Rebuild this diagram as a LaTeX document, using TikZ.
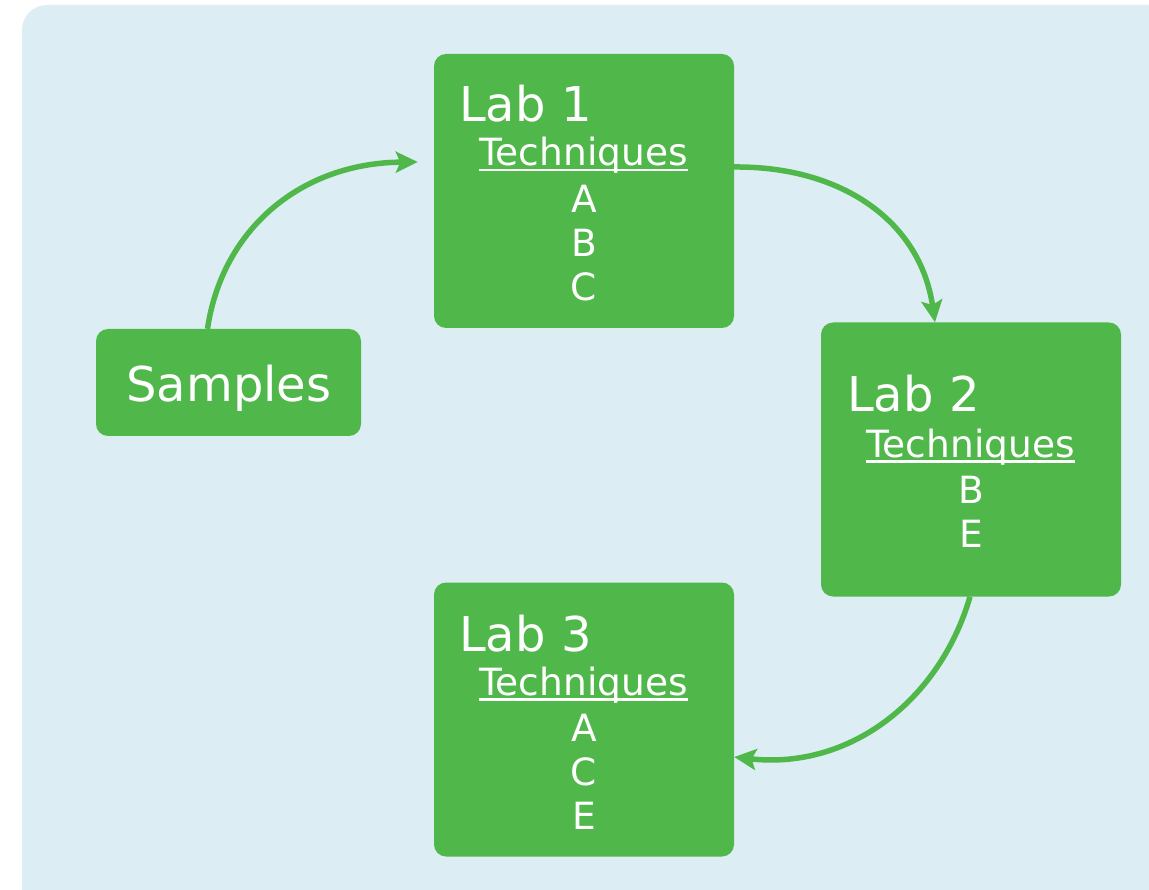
\documentclass[tikz,border=0pt]{standalone}
\usepackage{fontspec}
\setmainfont{DejaVu Sans}
\usetikzlibrary{arrows.meta}
\definecolor{bg}{HTML}{DCEEF3}
\definecolor{grn}{HTML}{50B84A}
\newcommand{\myul}[1]{\setbox0\hbox{#1}\rlap{\rule[-5.5pt]{\wd0}{2.4pt}}\box0}
\tikzset{
  labbox/.style={fill=grn, rounded corners=12pt, inner sep=0pt, minimum width=300pt, minimum height=274pt},
  sampbox/.style={fill=grn, rounded corners=12pt, inner sep=0pt, minimum width=265pt, minimum height=107pt},
  ttl/.style={text=white, inner sep=0pt, font=\fontsize{48}{57}\selectfont},
  itm/.style={text=white, inner sep=0pt, anchor=base, font=\fontsize{37.5}{45}\selectfont},
  arr/.style={draw=grn, line width=5.5pt, -{Stealth[length=22pt,width=21pt,inset=4.5pt]}},
}
\begin{document}
\begin{tikzpicture}[x=1pt,y=-1pt]
\useasboundingbox (0,0) rectangle (1149,890);
\fill[bg, rounded corners=25pt] (22,5) rectangle (1180,920);

\node[labbox] (lab1) at (584,191) {};
\node[sampbox] (samp) at (228.5,382.5) {};
\node[labbox] (lab2) at (971,459.5) {};
\node[labbox] (lab3) at (584,719.5) {};

\node[ttl, anchor=base] (samptxt) at (229,402) {Samples};

\node[ttl, anchor=base west] (l1t) at (459,122) {Lab 1};
\node[itm] (l1h) at (583.5,166) {\myul{Techniques}};
\node[itm] (l1a) at (584,213) {A};
\node[itm] (l1b) at (584,257) {B};
\node[itm] (l1c) at (584,301) {C};

\node[ttl, anchor=base west] (l2t) at (847,412) {Lab 2};
\node[itm] (l2h) at (970.5,457) {\myul{Techniques}};
\node[itm] (l2b) at (971,503) {B};
\node[itm] (l2e) at (971,547) {E};

\node[ttl, anchor=base west] (l3t) at (459,651) {Lab 3};
\node[itm] (l3h) at (583.5,695) {\myul{Techniques}};
\node[itm] (l3a) at (584,741) {A};
\node[itm] (l3c) at (584,785) {C};
\node[itm] (l3e) at (584,829) {E};

\draw[arr] ([xshift=-21pt]samp.north) .. controls (222,230) and (300,163) .. ([xshift=-16pt,yshift=29pt]lab1.west);
\draw[arr] ([yshift=24pt]lab1.east) .. controls (840,166) and (920,220) .. ([xshift=-36pt]lab2.north);
\draw[arr] ([xshift=-1pt]lab2.south) .. controls (940,700) and (850,770) .. ([yshift=-37.5pt]lab3.east);
\end{tikzpicture}
\end{document}
